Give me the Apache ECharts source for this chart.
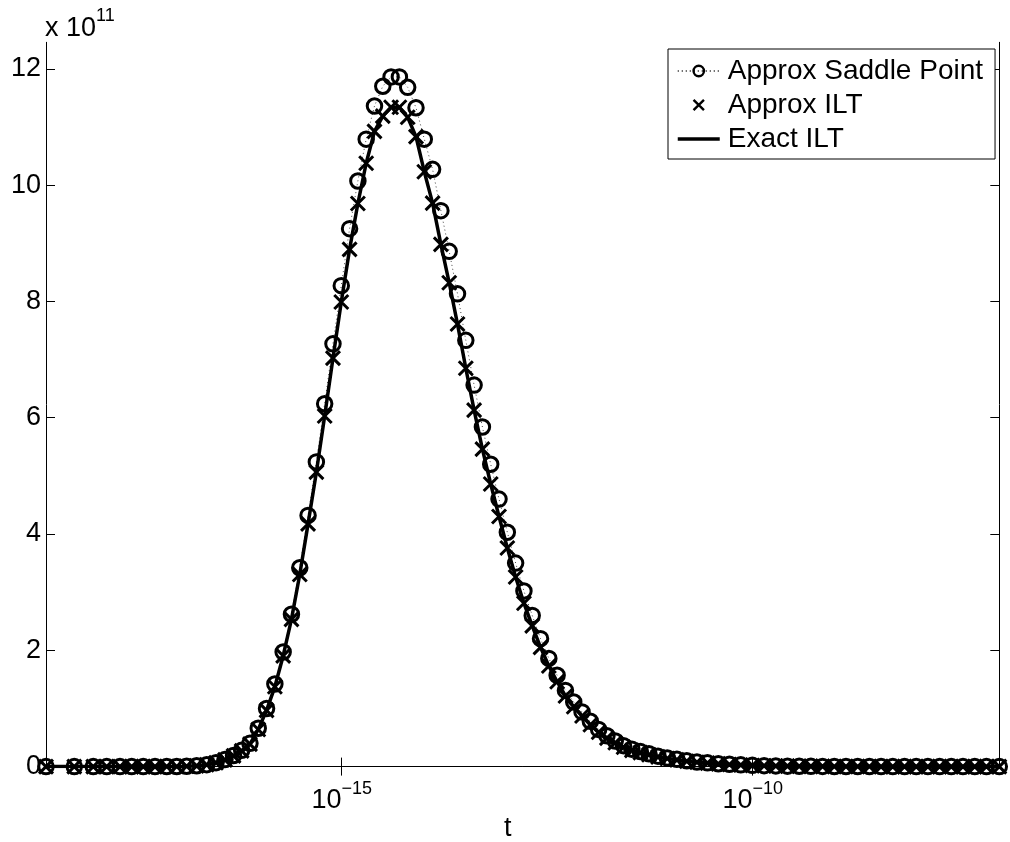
<!DOCTYPE html>
<html>
<head>
<meta charset="utf-8">
<script src="https://cdn.jsdelivr.net/npm/echarts@6/dist/echarts.min.js"></script>
<style>
html,body{margin:0;padding:0;background:#fff;}
#chart{width:1010px;height:842px;}
</style>
</head>
<body>
<div id="chart"></div>
<script>
// log10(t) of every sample point
const logT = [
  -18.597, -18.253, -18.022, -17.859, -17.697, -17.555, -17.414, -17.271,
  -17.129, -17.007, -16.886, -16.764, -16.642, -16.529, -16.420, -16.316,
  -16.217, -16.116, -16.015, -15.914, -15.813, -15.712, -15.611, -15.510,
  -15.409, -15.308, -15.207, -15.106, -15.005, -14.904, -14.803, -14.702,
  -14.601, -14.500, -14.399, -14.298, -14.197, -14.096, -13.995, -13.894,
  -13.793, -13.692, -13.591, -13.490, -13.389, -13.288, -13.187, -13.086,
  -12.985, -12.884, -12.783, -12.682, -12.581, -12.480, -12.379, -12.278,
  -12.177, -12.076, -11.975, -11.874, -11.773, -11.672, -11.571, -11.470,
  -11.367, -11.262, -11.152, -11.039, -10.922, -10.802, -10.678, -10.550,
  -10.418, -10.283, -10.145, -10.004, -9.861, -9.719, -9.577, -9.434,
  -9.292, -9.150, -9.007, -8.865, -8.723, -8.580, -8.438, -8.296,
  -8.153, -8.011, -7.869, -7.726, -7.584, -7.442, -7.299, -7.157, -7.000
];

// values in units of 1e11
const saddlePoint = [
  0, 0, 0, 0, 0.0001, 0.0001, 0.0003, 0.0005,
  0.001, 0.0025, 0.006, 0.014, 0.033, 0.068, 0.12, 0.19,
  0.28, 0.40, 0.66, 1.00, 1.42, 1.97, 2.62, 3.42,
  4.32, 5.24, 6.24, 7.27, 8.27, 9.25, 10.07, 10.79,
  11.36, 11.70, 11.86, 11.86, 11.68, 11.33, 10.79, 10.27,
  9.56, 8.86, 8.13, 7.33, 6.56, 5.84, 5.20, 4.60,
  4.03, 3.50, 3.02, 2.60, 2.20, 1.86, 1.57, 1.31,
  1.11, 0.94, 0.78, 0.64, 0.53, 0.44, 0.36, 0.30,
  0.26, 0.22, 0.18, 0.15, 0.125, 0.10, 0.08, 0.065,
  0.05, 0.04, 0.03, 0.022, 0.016, 0.012, 0.008, 0.006,
  0.0045, 0.0033, 0.0024, 0.0018, 0.0013, 0.001, 0.0007, 0.0005,
  0.0004, 0.0003, 0.0002, 0.00015, 0.0001, 0.0001, 0.0001, 0, 0
];

const approxILT = [
  0, 0, 0, 0, 0.0001, 0.0001, 0.0003, 0.0005,
  0.001, 0.0024, 0.0058, 0.0135, 0.032, 0.066, 0.116, 0.184,
  0.27, 0.386, 0.638, 0.966, 1.372, 1.903, 2.531, 3.304,
  4.174, 5.063, 6.029, 7.024, 7.99, 8.894, 9.683, 10.375,
  10.923, 11.185, 11.338, 11.338, 11.166, 10.832, 10.23, 9.69,
  8.98, 8.32, 7.61, 6.85, 6.13, 5.46, 4.86, 4.30,
  3.76, 3.26, 2.81, 2.42, 2.05, 1.73, 1.46, 1.215,
  1.03, 0.87, 0.72, 0.59, 0.49, 0.41, 0.333, 0.278,
  0.241, 0.204, 0.167, 0.139, 0.116, 0.093, 0.074, 0.060,
  0.046, 0.037, 0.028, 0.020, 0.015, 0.011, 0.0074, 0.0056,
  0.0042, 0.0031, 0.0022, 0.0017, 0.0012, 0.0009, 0.0006, 0.0005,
  0.0004, 0.0003, 0.0002, 0.00014, 0.0001, 0.0001, 0.0001, 0, 0
];

const exactILT = [
  0, 0, 0, 0, 0.0001, 0.0001, 0.0003, 0.0005,
  0.001, 0.0024, 0.0058, 0.0135, 0.032, 0.066, 0.116, 0.184,
  0.27, 0.386, 0.638, 0.966, 1.372, 1.903, 2.531, 3.304,
  4.174, 5.063, 6.029, 7.024, 7.99, 8.894, 9.683, 10.375,
  10.923, 11.185, 11.338, 11.338, 11.166, 10.832, 10.23, 9.69,
  8.98, 8.32, 7.61, 6.85, 6.13, 5.46, 4.86, 4.30,
  3.76, 3.26, 2.81, 2.42, 2.05, 1.73, 1.46, 1.215,
  1.03, 0.87, 0.72, 0.59, 0.49, 0.41, 0.333, 0.278,
  0.241, 0.204, 0.167, 0.139, 0.116, 0.093, 0.074, 0.060,
  0.046, 0.037, 0.028, 0.020, 0.015, 0.011, 0.0074, 0.0056,
  0.0042, 0.0031, 0.0022, 0.0017, 0.0012, 0.0009, 0.0006, 0.0005,
  0.0004, 0.0003, 0.0002, 0.00014, 0.0001, 0.0001, 0.0001, 0, 0
];

const xTickExponents = [-15, -10];
const yTicks = [0, 2, 4, 6, 8, 10, 12];
const seriesNames = ['Approx Saddle Point', 'Approx ILT', 'Exact ILT'];
const xAxisTitle = 't';
const yScaleExponent = '11';

const FONT = '"Liberation Sans", Arial, Helvetica, sans-serif';
const xMin = -18.597, xMax = -7.0, yMin = 0, yMax = 12.455;

function pairs(vals) { return logT.map((x, i) => [x, vals[i]]); }

const chart = echarts.init(document.getElementById('chart'), null, {renderer: 'canvas'});

const axisLineStyle = {show: true, lineStyle: {color: '#000', width: 1}};
const tickX = {show: true, inside: true, length: 9, customValues: xTickExponents, lineStyle: {color: '#000', width: 1}};
const tickY = {show: true, inside: true, length: 9, customValues: yTicks, lineStyle: {color: '#000', width: 1}};

const option = {
  animation: false,
  backgroundColor: '#fff',
  grid: {left: 46, right: 10.7, top: 42.3, bottom: 75.4, containLabel: false, outerBoundsMode: 'none'},
  xAxis: [
    {
      type: 'value', min: xMin, max: xMax, position: 'bottom',
      axisLine: axisLineStyle, axisTick: tickX, splitLine: {show: false},
      axisLabel: {
        customValues: xTickExponents, margin: 13, color: '#000',
        formatter: v => '{b|10}{s|\u2212' + Math.round(-v) + '}',
        rich: {
          b: {fontSize: 27, fontFamily: FONT, color: '#000', padding: [7, 0, 0, 0], verticalAlign: 'bottom'},
          s: {fontSize: 18, fontFamily: FONT, color: '#000', verticalAlign: 'top'}
        }
      }
    },
    {
      type: 'value', min: xMin, max: xMax, position: 'top',
      axisLine: axisLineStyle, axisTick: tickX, splitLine: {show: false},
      axisLabel: {show: false}
    }
  ],
  yAxis: [
    {
      type: 'value', min: yMin, max: yMax, position: 'left',
      axisLine: axisLineStyle, axisTick: tickY, splitLine: {show: false},
      axisLabel: {customValues: yTicks, margin: 5, color: '#000', fontSize: 27, fontFamily: FONT}
    },
    {
      type: 'value', min: yMin, max: yMax, position: 'right',
      axisLine: axisLineStyle, axisTick: tickY, splitLine: {show: false},
      axisLabel: {show: false}
    }
  ],
  legend: {
    orient: 'vertical', left: 668, top: 49,
    padding: [8, 12, 6, 8], itemGap: 6, itemWidth: 42, itemHeight: 13,
    borderColor: '#000', borderWidth: 1, borderRadius: 0, backgroundColor: '#fff',
    textStyle: {fontSize: 28, color: '#000', fontFamily: FONT, padding: [0, 0, 0, 3]},
    itemStyle: {borderWidth: 2.4},
    data: [
      {name: seriesNames[0]},
      {name: seriesNames[1]},
      {name: seriesNames[2], lineStyle: {width: 3.5, color: '#000'}}
    ]
  },
  series: [
    {
      name: seriesNames[0], type: 'line', data: pairs(saddlePoint),
      symbol: 'circle', symbolSize: 14.5, showSymbol: true,
      itemStyle: {color: 'rgba(0,0,0,0)', borderColor: '#000', borderWidth: 3},
      lineStyle: {color: '#444', width: 1, type: [1, 3]},
      z: 2
    },
    {
      name: seriesNames[1], type: 'line', data: pairs(approxILT),
      symbol: 'path://M0,0L10,10M10,0L0,10', symbolSize: 14, showSymbol: true,
      itemStyle: {color: 'rgba(0,0,0,0)', borderColor: '#000', borderWidth: 3},
      lineStyle: {color: 'rgba(0,0,0,0)', width: 0},
      z: 3
    },
    {
      name: seriesNames[2], type: 'line', data: pairs(exactILT),
      symbol: 'circle', symbolSize: 0, showSymbol: false,
      itemStyle: {color: 'rgba(0,0,0,0)', borderColor: 'rgba(0,0,0,0)', borderWidth: 0},
      lineStyle: {color: '#000', width: 3.5},
      z: 4
    }
  ],
  graphic: [
    {
      type: 'text', left: 45, top: 7,
      style: {
        text: '{a|x 10}{s|' + yScaleExponent + '}',
        rich: {
          a: {fontSize: 27, fontFamily: FONT, fill: '#000', padding: [8, 0, 0, 0], verticalAlign: 'bottom'},
          s: {fontSize: 18, fontFamily: FONT, fill: '#000', verticalAlign: 'top'}
        }
      }
    },
    {
      type: 'text', left: 504, top: 815,
      style: {text: xAxisTitle, fontSize: 27, fontFamily: FONT, fill: '#000'}
    }
  ]
};
chart.setOption(option);
</script>
</body>
</html>
